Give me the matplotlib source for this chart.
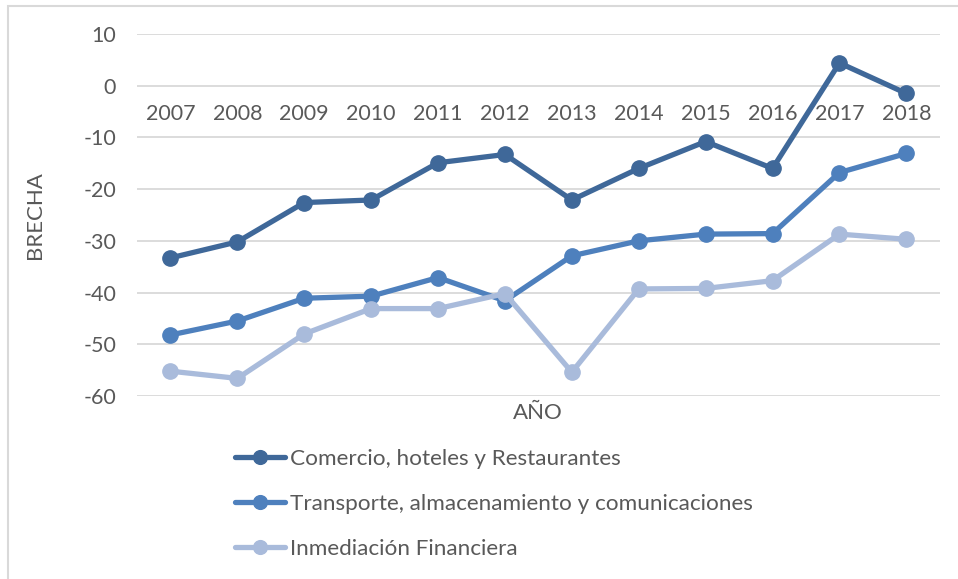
import numpy as np
import matplotlib
matplotlib.use("Agg")
import matplotlib.pyplot as plt
from matplotlib.patches import Rectangle

plt.rcParams['font.family'] = ['Lato', 'DejaVu Sans']
plt.rcParams['axes.unicode_minus'] = False

years = ["2007", "2008", "2009", "2010", "2011", "2012",
         "2013", "2014", "2015", "2016", "2017", "2018"]
comercio = [-33.3, -30.2, -22.6, -22.1, -14.9, -13.3,
            -22.1, -16.0, -10.8, -16.0, 4.4, -1.5]
transporte = [-48.2, -45.5, -41.1, -40.7, -37.1, -41.6,
              -32.9, -30.0, -28.7, -28.6, -16.8, -13.1]
financiera = [-55.2, -56.6, -48.0, -43.1, -43.1, -40.2,
              -55.4, -39.3, -39.2, -37.7, -28.7, -29.7]
series_names = ["Comercio, hoteles y Restaurantes",
                "Transporte, almacenamiento y comunicaciones",
                "Inmediación Financiera"]
colors = ["#3F6899", "#4E80BD", "#A9BBDB"]

TXT = "#595959"
FS = 15.5

fig = plt.figure(figsize=(9.58, 5.79), dpi=100)

# chart-area border (cropped at right and bottom in the original)
fig.patches.append(Rectangle((8 / 958, -0.05), 1.0, 1.05 - 6 / 579,
                             transform=fig.transFigure, fill=False,
                             edgecolor="#D9D9D9", lw=1.5))

ax = fig.add_axes([0.143, 0.3161, 0.838, 0.6252])

x = np.arange(len(years))
for vals, name, c in zip([comercio, transporte, financiera], series_names, colors):
    ax.plot(x, vals, color=c, lw=3.8, marker="o", ms=11, label=name,
            solid_capstyle="round", solid_joinstyle="round")

ax.set_xlim(-0.5, len(years) - 0.5)
ax.set_ylim(-60, 10)
ax.set_yticks(np.arange(-60, 11, 10))
ax.yaxis.grid(True, color="#D9D9D9", lw=1.3)
ax.set_axisbelow(True)
for s in ax.spines.values():
    s.set_visible(False)

ax.spines["bottom"].set_position(("data", 0))
ax.set_xticks(x)
ax.set_xticklabels(years)
ax.tick_params(axis="x", length=0, pad=13, labelsize=FS, labelcolor=TXT)
ax.tick_params(axis="y", length=0, pad=15, labelsize=FS, labelcolor=TXT)

fig.text(35 / 958, 1 - 215 / 579, "BRECHA", rotation=90, ha="center",
         va="center", fontsize=FS + 0.5, color=TXT)
fig.text(538 / 958, 1 - 413 / 579, "AÑO", ha="center", va="center",
         fontsize=FS + 0.5, color=TXT)

leg = fig.legend(loc="upper left", bbox_to_anchor=(224 / 958, 1 - 438 / 579),
                 frameon=False, fontsize=16.2, handlelength=2.2, handletextpad=0.25,
                 labelspacing=1.1, borderpad=0, markerscale=0.9)
for t in leg.get_texts():
    t.set_color(TXT)

fig.savefig("out.png", dpi=100)
